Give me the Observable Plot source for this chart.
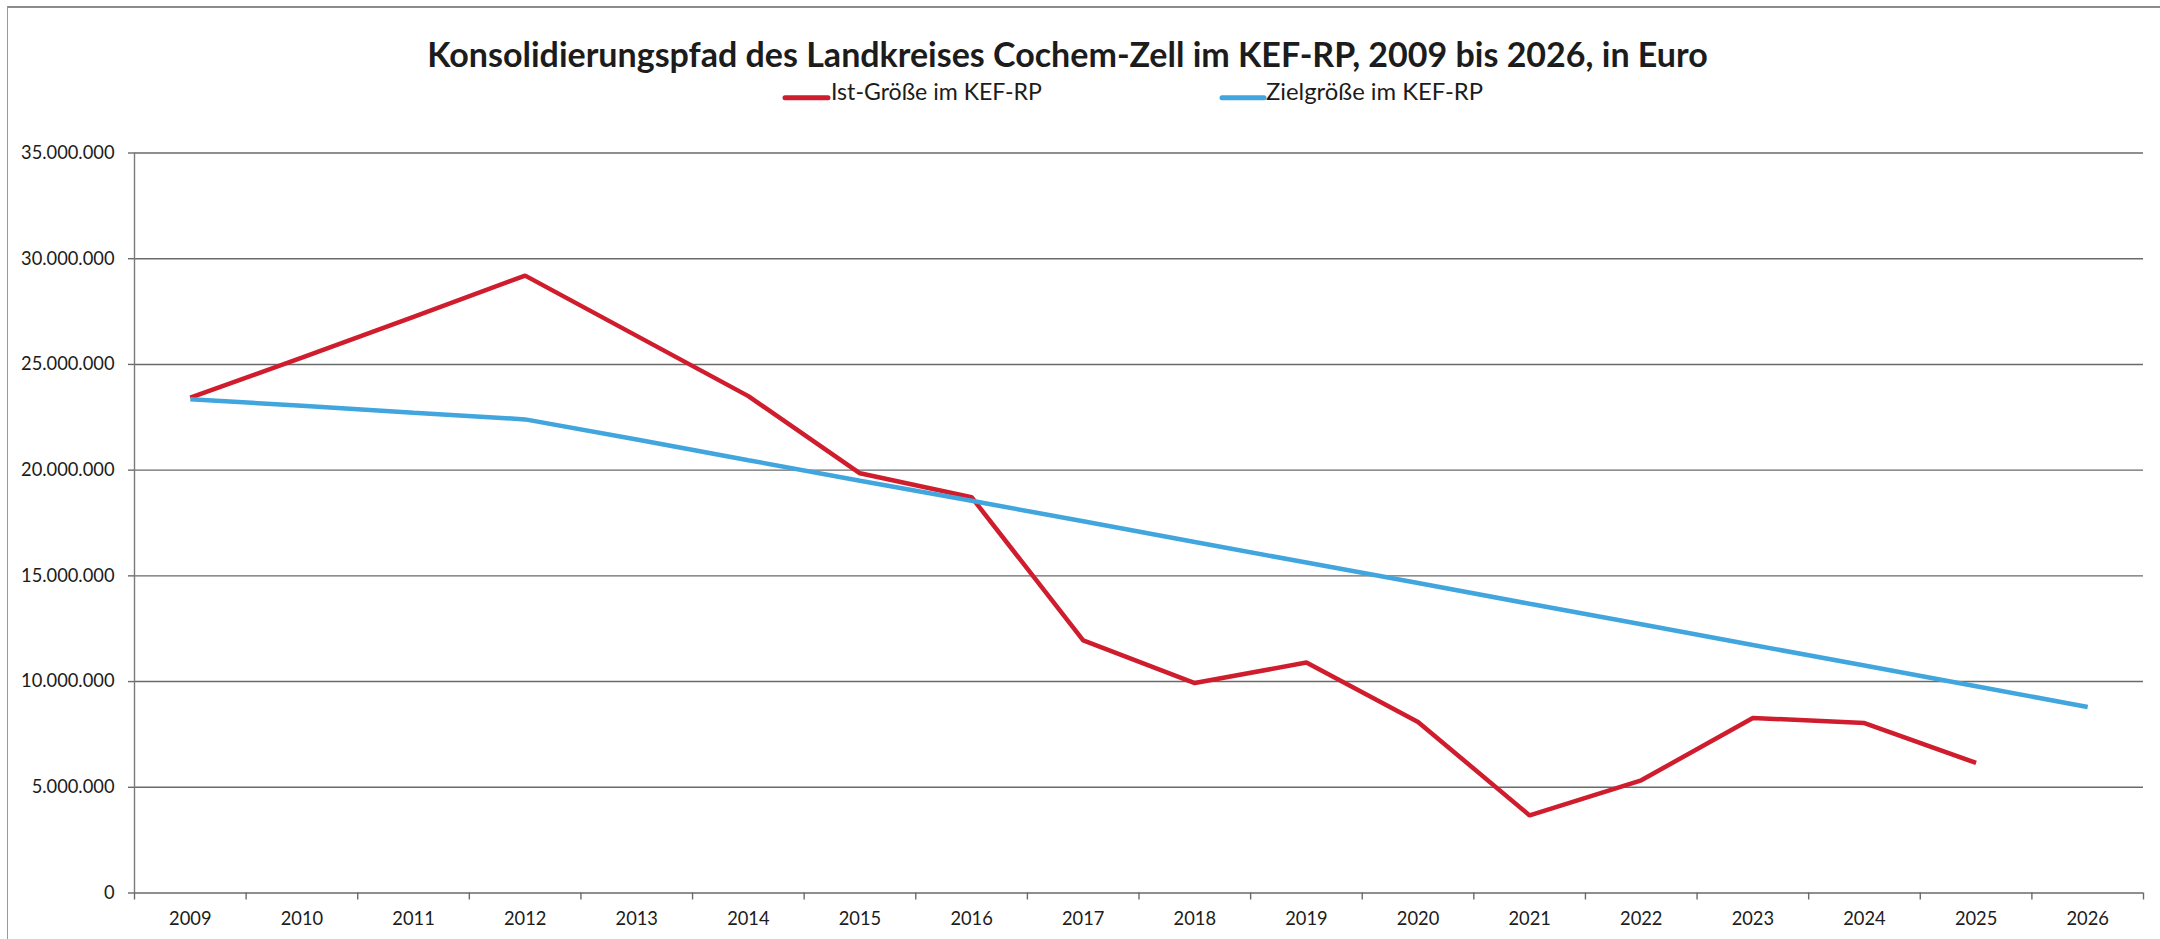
<!DOCTYPE html>
<html>
<head>
<meta charset="utf-8">
<script src="https://cdn.jsdelivr.net/npm/d3@7"></script>
<script src="https://cdn.jsdelivr.net/npm/@observablehq/plot@0.6"></script>
<style>
  html, body { margin: 0; padding: 0; background: #fff; }
  #wrap { position: relative; width: 2160px; height: 939px; overflow: hidden; font-family: Lato, "Open Sans", sans-serif; }
  #frame { position: absolute; left: 7px; top: 6px; width: 2160px; height: 940px; border-left: 1.5px solid #9a9a9a; border-top: 2px solid #8c8c8c; pointer-events: none; }
  #header { display: block; }
  #chart svg { display: block; }
</style>
</head>
<body>
<div id="wrap">
  <svg id="header" width="2160" height="125"></svg>
  <div id="chart"></div>
  <div id="frame"></div>
</div>
<script>
// ---- data ----
const chartTitle = "Konsolidierungspfad des Landkreises Cochem-Zell im KEF-RP, 2009 bis 2026, in Euro";
const seriesNames = ["Ist-Größe im KEF-RP", "Zielgröße im KEF-RP"];
const seriesColors = ["#cf1d2e", "#41a5de"];
const years = [2009, 2010, 2011, 2012, 2013, 2014, 2015, 2016, 2017, 2018, 2019, 2020, 2021, 2022, 2023, 2024, 2025, 2026];
const istValues = [23430000, 25320000, 27250000, 29200000, 26350000, 23500000, 19850000, 18720000, 11950000, 9930000, 10900000, 8090000, 3670000, 5330000, 8280000, 8040000, 6150000, null];
const zielValues = [23350000, 23050000, 22720000, 22400000, 21450000, 20470000, 19500000, 18550000, 17580000, 16600000, 15630000, 14660000, 13680000, 12710000, 11730000, 10760000, 9780000, 8800000];
const yTicks = [0, 5000000, 10000000, 15000000, 20000000, 25000000, 30000000, 35000000];
const yTickLabels = ["0", "5.000.000", "10.000.000", "15.000.000", "20.000.000", "25.000.000", "30.000.000", "35.000.000"];

// ---- header (title + legend) ----
const header = d3.select("#header");
function fitWidth(sel, target) {
  const node = sel.node();
  const w = node.getComputedTextLength();
  const fs = parseFloat(sel.attr("font-size"));
  if (w > 0) sel.attr("font-size", (fs * target / w).toFixed(2));
}
const titleText = header.append("text")
  .attr("x", 1067.5).attr("y", 66.5)
  .attr("text-anchor", "middle")
  .attr("font-family", "Lato, 'Open Sans', sans-serif")
  .attr("font-weight", 700)
  .attr("font-size", 30)
  .attr("fill", "#1c1c1c")
  .text(chartTitle);
fitWidth(titleText, 1281);

const legendItems = [
  {name: seriesNames[0], color: seriesColors[0], x0: 785, x1: 828, tx: 831, tw: 211},
  {name: seriesNames[1], color: seriesColors[1], x0: 1222, x1: 1264, tx: 1266, tw: 217}
];
for (const it of legendItems) {
  header.append("line")
    .attr("x1", it.x0).attr("x2", it.x1).attr("y1", 97.8).attr("y2", 97.8)
    .attr("stroke", it.color).attr("stroke-width", 5).attr("stroke-linecap", "round");
  const t = header.append("text")
    .attr("x", it.tx).attr("y", 99.5)
    .attr("font-family", "Lato, 'Open Sans', sans-serif")
    .attr("font-size", 22)
    .attr("fill", "#1c1c1c")
    .text(it.name);
  fitWidth(t, it.tw);
}

// ---- chart ----
const ist = years.map((year, i) => ({year, value: istValues[i]})).filter(d => d.value != null);
const ziel = years.map((year, i) => ({year, value: zielValues[i]}));
const boundaries = [years[0] - 0.5, ...years.map(y => y + 0.5)];
const labelOf = new Map(yTicks.map((t, i) => [t, yTickLabels[i]]));

const chart = Plot.plot({
  width: 2160,
  height: 814,
  marginTop: 27.5,
  marginBottom: 46.5,
  marginLeft: 134,
  marginRight: 17,
  style: {fontFamily: "Lato, 'Open Sans', sans-serif", fontSize: "18.3px", color: "#1c1c1c", background: "transparent", overflow: "visible"},
  x: {type: "linear", domain: [years[0] - 0.5, years[years.length - 1] + 0.5]},
  y: {domain: [0, 35000000]},
  marks: [
    Plot.gridY(yTicks, {stroke: "#6a6a6a", strokeOpacity: 1, strokeWidth: 1.4}),
    Plot.ruleX([years[0] - 0.5], {stroke: "#7a7a7a", strokeWidth: 1.4}),
    Plot.axisY({ticks: yTicks, tickFormat: d => labelOf.get(d), tickSize: 6, tickPadding: 14, stroke: "#6a6a6a", strokeWidth: 1.4, label: null}),
    Plot.axisX({ticks: boundaries, tickSize: 7, tickFormat: () => "", stroke: "#6a6a6a", strokeWidth: 1.4, label: null}),
    Plot.axisX({ticks: years, tickSize: 0, tickPadding: 19, tickFormat: d => String(d), label: null}),
    Plot.lineY(ist, {x: "year", y: "value", stroke: seriesColors[0], strokeWidth: 4.5, strokeLinejoin: "miter", strokeLinecap: "butt"}),
    Plot.lineY(ziel, {x: "year", y: "value", stroke: seriesColors[1], strokeWidth: 4.5, strokeLinejoin: "miter", strokeLinecap: "butt"})
  ]
});
document.getElementById("chart").appendChild(chart);
</script>
</body>
</html>
